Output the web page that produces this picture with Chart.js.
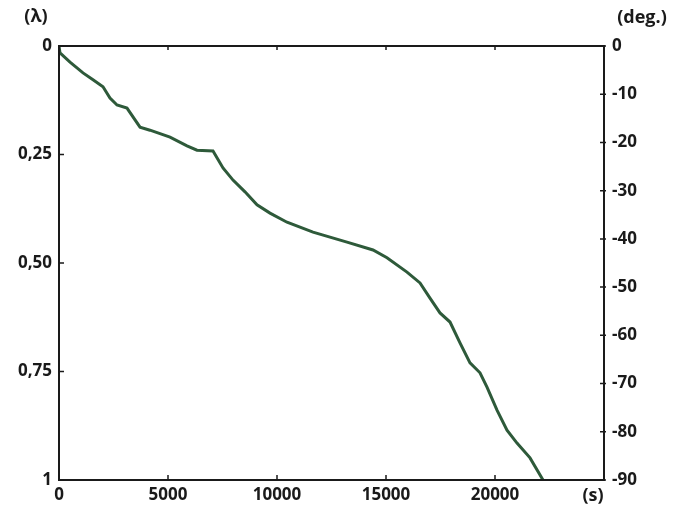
<!DOCTYPE html>
<html lang="en">
<head>
  <meta charset="UTF-8">
  <title>λ (t)</title>
  <script src="https://cdn.jsdelivr.net/npm/chart.js"></script>
  <style>
    body {
      margin: 0;
      background: #fff;
    }
    #wrap {
      width: 677px;
      height: 506px;
    }
  </style>
</head>
<body>
<div id="wrap">
  <canvas id="lambdaChart" width="677" height="506"></canvas>
</div>

<script>
  // time, s
  const timeSec = [0, 46, 505, 1101, 1560, 2018, 2339, 2661, 3119, 3716, 4174, 5092, 5872, 6330,
    7064, 7523, 7982, 8532, 9083, 9679, 10459, 11651, 13211, 14404, 15046, 15963, 16560, 17018,
    17477, 17936, 18394, 18853, 19312, 19633, 20092, 20550, 21009, 21606, 22202];
  // λ (0 at top, 1 at bottom)
  const lambdaVals = [0, 0.016, 0.037, 0.062, 0.078, 0.094, 0.120, 0.136, 0.143, 0.187, 0.194,
    0.210, 0.230, 0.240, 0.242, 0.281, 0.309, 0.336, 0.366, 0.385, 0.406, 0.429, 0.452, 0.470,
    0.488, 0.521, 0.546, 0.581, 0.615, 0.636, 0.684, 0.730, 0.753, 0.786, 0.839, 0.885, 0.915,
    0.949, 1.0];

  const xTicks = [0, 5000, 10000, 15000, 20000, 25000];
  const lambdaTicks = [0, 0.25, 0.5, 0.75, 1];
  const lambdaLabels = ['0', '0,25', '0,50', '0,75', '1'];
  const degTicks = [0, -10, -20, -30, -40, -50, -60, -70, -80, -90];

  const ink = '#1a1a1a';
  const font = { family: 'Open Sans', size: 17, weight: 'bold' };

  // frame, inward tick marks and the unit labels
  const frameTicks = {
    id: 'frameTicks',
    afterDraw(chart) {
      const { ctx, chartArea: a, scales } = chart;
      ctx.save();
      ctx.strokeStyle = ink;
      ctx.lineWidth = 2;
      ctx.strokeRect(a.left, a.top, a.right - a.left, a.bottom - a.top);
      ctx.lineWidth = 1.5;
      ctx.beginPath();
      xTicks.forEach(v => {
        const px = scales.x.getPixelForValue(v);
        ctx.moveTo(px, a.bottom); ctx.lineTo(px, a.bottom - 5);
        ctx.moveTo(px, a.top); ctx.lineTo(px, a.top + 4);
      });
      lambdaTicks.forEach(v => {
        const py = scales.y.getPixelForValue(v);
        ctx.moveTo(a.left, py); ctx.lineTo(a.left + 5, py);
      });
      degTicks.forEach(v => {
        const py = scales.y2.getPixelForValue(v);
        ctx.moveTo(a.right - 4, py); ctx.lineTo(a.right + 2, py);
      });
      ctx.stroke();

      ctx.fillStyle = ink;
      ctx.font = 'bold 18px "Open Sans"';
      ctx.textAlign = 'center';
      ctx.textBaseline = 'middle';
      ctx.fillText('(λ)', 36, 17);
      ctx.fillText('(deg.)', 642, 18);
      ctx.fillText('(s)', 593, 496);
      ctx.restore();
    }
  };

  new Chart(document.getElementById('lambdaChart').getContext('2d'), {
    type: 'line',
    data: {
      datasets: [{
        data: timeSec.map((t, i) => ({ x: t, y: lambdaVals[i] })),
        borderColor: '#2e5a3a',
        borderWidth: 3,
        pointRadius: 0,
        tension: 0,
        yAxisID: 'y'
      }]
    },
    plugins: [frameTicks],
    options: {
      responsive: false,
      animation: false,
      layout: { padding: { top: 46 } },
      plugins: { legend: { display: false }, tooltip: { enabled: false } },
      scales: {
        x: {
          type: 'linear',
          min: 0,
          max: 25000,
          afterFit: s => { s.height = 26; },
          afterBuildTicks: s => { s.ticks = xTicks.map(v => ({ value: v })); },
          grid: { display: false, drawTicks: false },
          border: { display: false },
          ticks: {
            padding: 5,
            color: ink,
            font: font,
            maxRotation: 0,
            callback: v => (v === 25000 ? '' : String(v))
          }
        },
        y: {
          position: 'left',
          reverse: true,
          min: 0,
          max: 1,
          afterFit: s => { s.width = 59; },
          afterBuildTicks: s => { s.ticks = lambdaTicks.map(v => ({ value: v })); },
          grid: { display: false, drawTicks: false },
          border: { display: false },
          ticks: {
            padding: 7,
            color: ink,
            font: font,
            callback: v => lambdaLabels[lambdaTicks.indexOf(v)]
          }
        },
        y2: {
          position: 'right',
          min: -90,
          max: 0,
          afterFit: s => { s.width = 73; },
          afterBuildTicks: s => { s.ticks = degTicks.map(v => ({ value: v })); },
          grid: { display: false, drawTicks: false },
          border: { display: false },
          ticks: { padding: 8, color: ink, font: font }
        }
      }
    }
  });
</script>
</body>
</html>
